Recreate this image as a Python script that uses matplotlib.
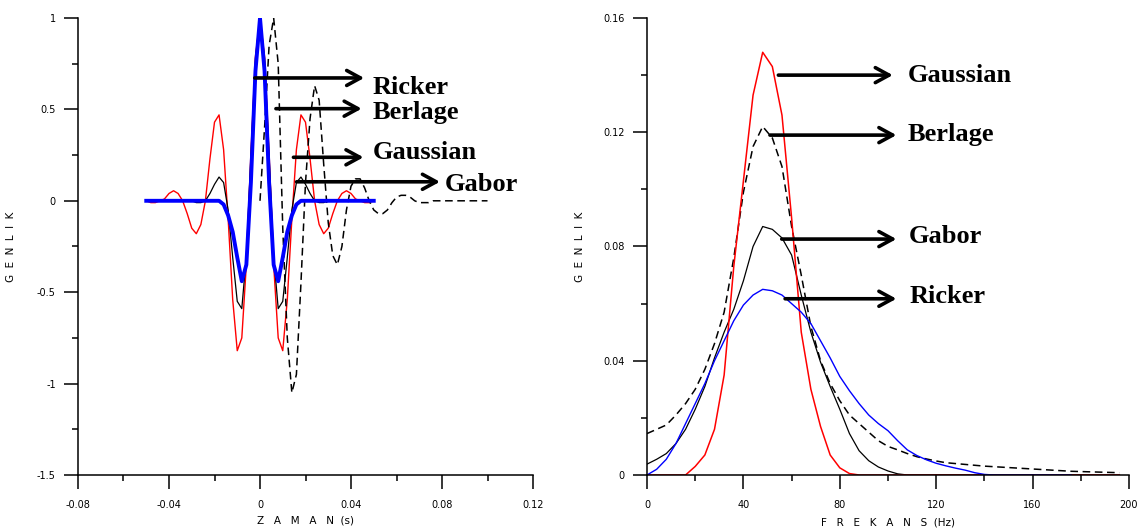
import numpy as np
import matplotlib.pyplot as plt
from matplotlib.ticker import MultipleLocator, FixedLocator

# --- zaman ortami dalgaciklari ---
t_wave = np.linspace(-0.05, 0.05, 51)      # Gaussian, Gabor, Ricker
t_berlage = np.linspace(0.0, 0.1, 51)      # Berlage (nedensel)

gaussian_wave = [0.00, -0.01, -0.01, 0.00, 0.01, 0.04, 0.055, 0.04, 0.00, -0.07,
                 -0.15, -0.18, -0.13, 0.00, 0.23, 0.43, 0.47, 0.28, -0.10, -0.54,
                 -0.82, -0.75, -0.35, 0.26, 0.79, 1.00, 0.79, 0.26, -0.35, -0.75,
                 -0.82, -0.54, -0.10, 0.28, 0.47, 0.43, 0.23, 0.00, -0.13, -0.18,
                 -0.15, -0.07, 0.00, 0.04, 0.055, 0.04, 0.01, 0.00, -0.01, -0.01, 0.00]

gabor_wave = [0.0] * 11 + [-0.01, -0.01, 0.00, 0.04, 0.09, 0.13, 0.10, -0.05, -0.31,
                           -0.55, -0.59, -0.30, 0.24, 0.78, 1.00, 0.78, 0.24, -0.30,
                           -0.59, -0.55, -0.31, -0.05, 0.10, 0.13, 0.09, 0.04, 0.00,
                           -0.01, -0.01] + [0.0] * 11

ricker_wave = [0.0] * 17 + [-0.02, -0.08, -0.17, -0.31, -0.44, -0.35, 0.10, 0.71, 1.00,
                            0.71, 0.10, -0.35, -0.44, -0.31, -0.17, -0.08, -0.02] + [0.0] * 17

berlage_wave = [0.00, 0.40, 0.85, 1.00, 0.75, -0.15, -0.75, -1.05, -0.95, -0.45,
                0.10, 0.45, 0.63, 0.55, 0.20, -0.12, -0.30, -0.35, -0.25, -0.05,
                0.08, 0.12, 0.12, 0.07, 0.00, -0.05, -0.07, -0.07, -0.05, -0.01,
                0.02, 0.03, 0.03, 0.02, 0.00, -0.01, -0.01, -0.01, 0.00] + [0.0] * 12

# --- genlik spektrumlari ---
freq = np.arange(0, 200, 4)
freq_ricker = np.arange(0, 180, 4)

gaussian_spec = [0, 0, 0, 0, 0, 0.003, 0.007, 0.016, 0.035, 0.073,
                 0.103, 0.133, 0.148, 0.143, 0.126, 0.090, 0.050, 0.030, 0.017, 0.007,
                 0.0025, 0.0005] + [0.0] * 28

berlage_spec = [0.0145, 0.016, 0.0175, 0.021, 0.025, 0.030, 0.037, 0.046, 0.057, 0.076,
                0.099, 0.115, 0.122, 0.118, 0.108, 0.087, 0.070, 0.052, 0.040, 0.032,
                0.026, 0.021, 0.018, 0.015, 0.012, 0.010, 0.0088, 0.0075, 0.0064, 0.0056,
                0.0049, 0.0043, 0.0040, 0.0037, 0.0034, 0.0031, 0.0029, 0.0027, 0.0025, 0.0023,
                0.0021, 0.0019, 0.0017, 0.0015, 0.0013, 0.0012, 0.0011, 0.0010, 0.0009, 0.0008]

gabor_spec = [0.0038, 0.0055, 0.0075, 0.011, 0.016, 0.023, 0.031, 0.041, 0.050, 0.058,
              0.068, 0.080, 0.087, 0.086, 0.083, 0.077, 0.063, 0.050, 0.0395, 0.031,
              0.023, 0.0145, 0.0085, 0.005, 0.0028, 0.0014, 0.0004] + [0.0] * 23

ricker_spec = [0, 0.002, 0.0055, 0.011, 0.018, 0.025, 0.032, 0.040, 0.047, 0.054,
               0.0595, 0.063, 0.065, 0.0645, 0.063, 0.060, 0.057, 0.053, 0.047, 0.041,
               0.0345, 0.0295, 0.025, 0.021, 0.018, 0.0155, 0.012, 0.0088, 0.0068, 0.0053,
               0.0041, 0.0032, 0.0024, 0.0017, 0.0008, 0.0002] + [0.0] * 9

tick_font = dict(family='DejaVu Sans', size=7)
label_font = dict(family='Liberation Serif', size=19, weight='bold')
arrow_kw = dict(arrowstyle='->,head_length=0.55,head_width=0.3', lw=2.6, color='black',
                mutation_scale=18, shrinkA=0, shrinkB=0)


def style_axes(ax):
    for side in ['top', 'right']:
        ax.spines[side].set_visible(False)
    for side in ['left', 'bottom']:
        ax.spines[side].set_linewidth(1.1)
    ax.tick_params(which='major', direction='out', length=10, width=1.1, pad=6)
    ax.tick_params(which='minor', direction='out', length=4, width=1.1)
    ax.tick_params(axis='x', which='major', pad=8)
    for lbl in ax.get_xticklabels() + ax.get_yticklabels():
        lbl.set_fontfamily(tick_font['family'])
        lbl.set_fontsize(tick_font['size'])


def arrow(ax, x0, x1, y, text, tx, ty):
    ax.annotate('', xy=(x1, y), xytext=(x0, y), arrowprops=arrow_kw)
    ax.text(tx, ty, text, va='baseline', ha='left', **label_font)


fig = plt.figure(figsize=(11.47, 5.28), dpi=100)

# ---------------- sol: zaman ----------------
ax1 = fig.add_axes([0.068, 0.1004, 0.3967, 0.8655])
ax1.plot(t_wave, gaussian_wave, color='#ff0000', lw=1.0)
ax1.plot(t_wave, gabor_wave, color='black', lw=0.9)
ax1.plot(t_berlage, berlage_wave, color='black', lw=1.1, linestyle=(0, (5, 3)))
ax1.plot(t_wave, ricker_wave, color='#0000ff', lw=2.8)

ax1.set_xlim(-0.08, 0.12)
ax1.set_ylim(-1.5, 1.0)
ax1.xaxis.set_major_locator(FixedLocator([-0.08, -0.04, 0, 0.04, 0.08, 0.12]))
ax1.set_xticklabels(['-0.08', '-0.04', '0', '0.04', '0.08', '0.12'])
ax1.xaxis.set_minor_locator(FixedLocator([-0.06, -0.02, 0.02, 0.06, 0.10]))
ax1.yaxis.set_major_locator(FixedLocator([-1.5, -1, -0.5, 0, 0.5, 1]))
ax1.set_yticklabels(['-1.5', '-1', '-0.5', '0', '0.5', '1'])
ax1.yaxis.set_minor_locator(MultipleLocator(0.25))
style_axes(ax1)
ax1.set_xlabel('Z   A   M   A   N  (s)', fontsize=7.5, family='DejaVu Sans')
ax1.set_ylabel('G  E  N  L  I  K', fontsize=7.5, family='DejaVu Sans')
ax1.xaxis.set_label_coords(0.5, -0.088)
ax1.yaxis.set_label_coords(-0.136, 0.5)

arrow(ax1, -0.0023, 0.0458, 0.672, 'Ricker', 0.0494, 0.586)
arrow(ax1, 0.0070, 0.0447, 0.504, 'Berlage', 0.0494, 0.445)
arrow(ax1, 0.0147, 0.0455, 0.238, 'Gaussian', 0.0494, 0.229)
arrow(ax1, 0.0161, 0.0791, 0.104, 'Gabor', 0.0813, 0.055)

# ---------------- sag: frekans ----------------
ax2 = fig.add_axes([0.5641, 0.1004, 0.4202, 0.8655])
ax2.plot(freq, gabor_spec, color='black', lw=0.9)
ax2.plot(freq, berlage_spec, color='black', lw=1.1, linestyle=(0, (5, 3)))
ax2.plot(freq, gaussian_spec, color='#ff0000', lw=1.1)
ax2.plot(freq_ricker, ricker_spec, color='#0000ff', lw=1.0)

ax2.set_xlim(0, 200)
ax2.set_ylim(0, 0.16)
ax2.xaxis.set_major_locator(MultipleLocator(40))
ax2.xaxis.set_minor_locator(MultipleLocator(20))
ax2.yaxis.set_major_locator(FixedLocator([0, 0.04, 0.08, 0.12, 0.16]))
ax2.set_yticklabels(['0', '0.04', '0.08', '0.12', '0.16'])
ax2.yaxis.set_minor_locator(MultipleLocator(0.02))
style_axes(ax2)
ax2.set_xlabel('F   R   E   K   A   N   S  (Hz)', fontsize=7.5, family='DejaVu Sans')
ax2.set_ylabel('G  E  N  L  I  K', fontsize=7.5, family='DejaVu Sans')
ax2.xaxis.set_label_coords(0.5, -0.092)
ax2.yaxis.set_label_coords(-0.128, 0.5)

arrow(ax2, 54.5, 102.0, 0.140, 'Gaussian', 108.2, 0.1377)
arrow(ax2, 51.0, 103.5, 0.119, 'Berlage', 108.2, 0.1169)
arrow(ax2, 55.9, 103.5, 0.0826, 'Gabor', 108.6, 0.0811)
arrow(ax2, 57.3, 103.5, 0.0617, 'Ricker', 109.0, 0.0603)

fig.savefig('out.png', dpi=100)
